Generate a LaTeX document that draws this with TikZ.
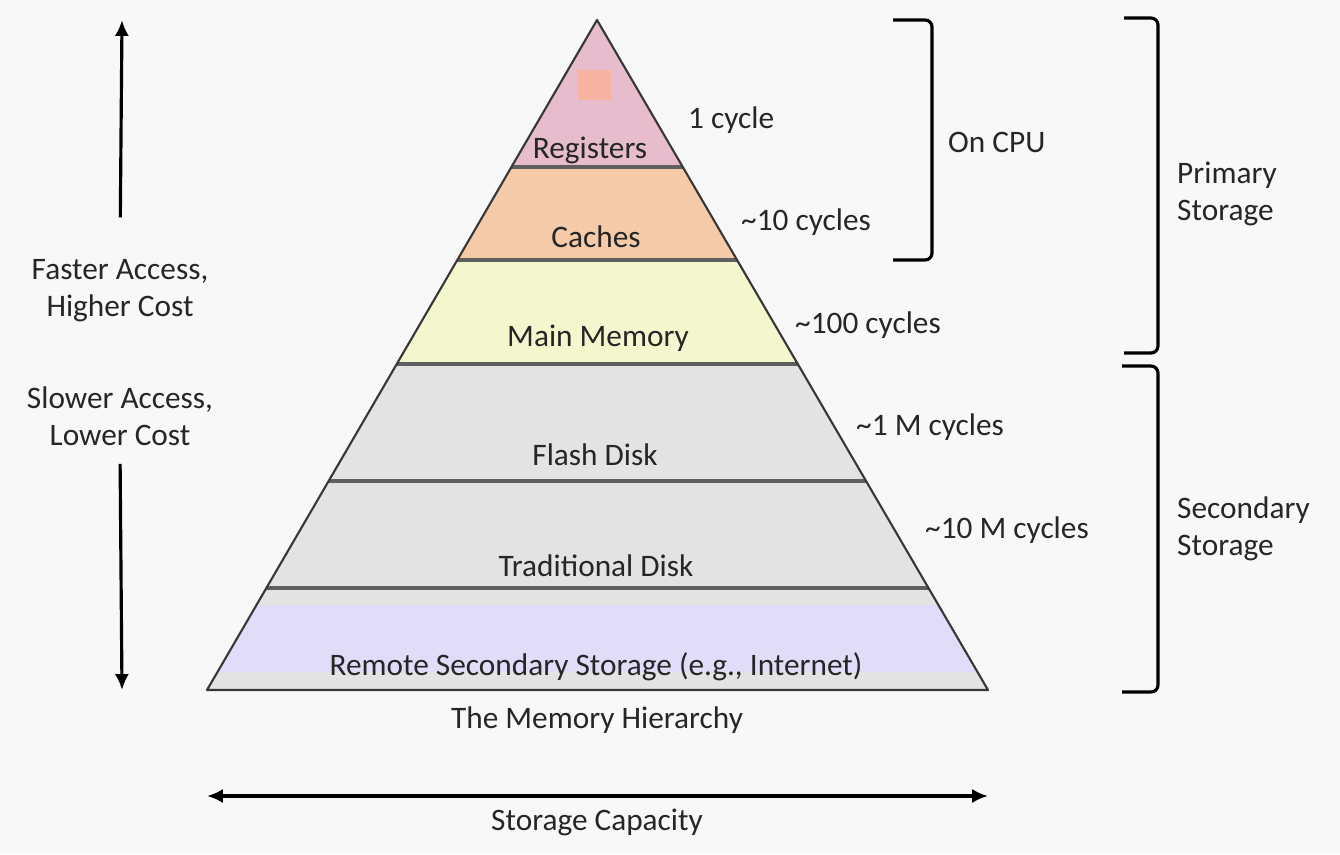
\documentclass[tikz,border=0pt]{standalone}
\usepackage{fontspec}
\setmainfont{Carlito}
\usetikzlibrary{arrows.meta}
\definecolor{bgcol}{RGB}{248,248,248}
\definecolor{inkcol}{RGB}{38,38,38}
\definecolor{edgecol}{RGB}{55,55,55}
\definecolor{sepcol}{RGB}{95,95,95}
\definecolor{regcol}{RGB}{231,188,205}
\definecolor{regdot}{RGB}{247,180,162}
\definecolor{cachecol}{RGB}{244,202,168}
\definecolor{maincol}{RGB}{244,246,206}
\definecolor{diskcol}{RGB}{227,227,227}
\definecolor{remotecol}{RGB}{225,221,248}

\begin{document}
\begin{tikzpicture}[x=0.01cm,y=-0.01cm,
  lbl/.style={font=\fontsize{8.9}{10.6}\selectfont,text=inkcol,inner sep=1pt},
  sepline/.style={line width=1pt,draw=sepcol},
  bracket/.style={line width=0.9pt,rounded corners=2pt},
  dblarrow/.style={line width=0.9pt,-{Latex[length=4.5pt,width=4pt]}}]
  \fill[bgcol] (0,0) rectangle (1340,854);
  % Pyramid: bands clipped to the triangle
  \coordinate (apex) at (597,20);
  \coordinate (baseL) at (207,690);
  \coordinate (baseR) at (988,690);
  \begin{scope}
    \clip (apex) -- (baseL) -- (baseR) -- cycle;
    \fill[regcol] (200,0) rectangle (1000,167);
    \fill[regdot] (578,70) rectangle (611,100);
    \fill[cachecol] (200,167) rectangle (1000,260);
    \fill[maincol] (200,260) rectangle (1000,364);
    \fill[diskcol] (200,364) rectangle (1000,690);
    \fill[remotecol] (200,605) rectangle (1000,672);
    \foreach \y in {167,260,364,481,588}
      \draw[sepline] (200,\y) -- (1000,\y);
  \end{scope}
  \draw[line width=0.6pt,draw=edgecol,line join=round] (apex) -- (baseL) -- (baseR) -- cycle;
  % Layer names
  \node[lbl] (reg) at (590,150){Registers};
  \node[lbl] (cache) at (596,237){Caches};
  \node[lbl] (main) at (598,338){Main Memory};
  \node[lbl] (flash) at (595,455){Flash Disk};
  \node[lbl] (trad) at (596,566){Traditional Disk};
  \node[lbl] (remote) at (596,667){Remote Secondary Storage (e.g., Internet)};
  \node[lbl] (title) at (597,720){The Memory Hierarchy};
  % Access times
  \node[lbl,anchor=west] (t1) at (684,120){1 cycle};
  \node[lbl,anchor=west] (t10) at (737,222){\textasciitilde10 cycles};
  \node[lbl,anchor=west] (t100) at (791,325){\textasciitilde100 cycles};
  \node[lbl,anchor=west] (t1m) at (852,427){\textasciitilde1 M cycles};
  \node[lbl,anchor=west] (t10m) at (921,530){\textasciitilde10 M cycles};
  % Left: speed and cost
  \coordinate (accTop) at (122,20);
  \coordinate (accBot) at (122,690);
  \node[lbl,align=center] (fast) at (120,291){Faster Access,\\Higher Cost};
  \node[lbl,align=center] (slow) at (120,416){Slower Access,\\Lower Cost};
  \draw[dblarrow,shorten <=0.38cm] (fast.north) -- (accTop);
  \draw[dblarrow,shorten <=0.14cm] (slow.south) -- (accBot);
  % Bottom: capacity
  \coordinate (capL) at (207,796);
  \coordinate (capR) at (988,796);
  \draw[line width=0.9pt,{Latex[length=4.5pt,width=4pt]}-{Latex[length=4.5pt,width=4pt]}] (capL) -- (capR);
  \node[lbl] (cap) at (597,822){Storage Capacity};
  % Right: brackets
  \draw[bracket] (893,20) -- (932,20) -- (932,260) -- (893,260);
  \node[lbl,anchor=west] (cpu) at (944,142){On CPU};
  \draw[bracket] (1124,18) -- (1158,18) -- (1158,353) -- (1124,353);
  \node[lbl,anchor=west,align=left] (prim) at (1173,194){Primary\\Storage};
  \draw[bracket] (1122,366) -- (1158,366) -- (1158,692) -- (1122,692);
  \node[lbl,anchor=west,align=left] (sec) at (1173,529){Secondary\\Storage};
\end{tikzpicture}
\end{document}
